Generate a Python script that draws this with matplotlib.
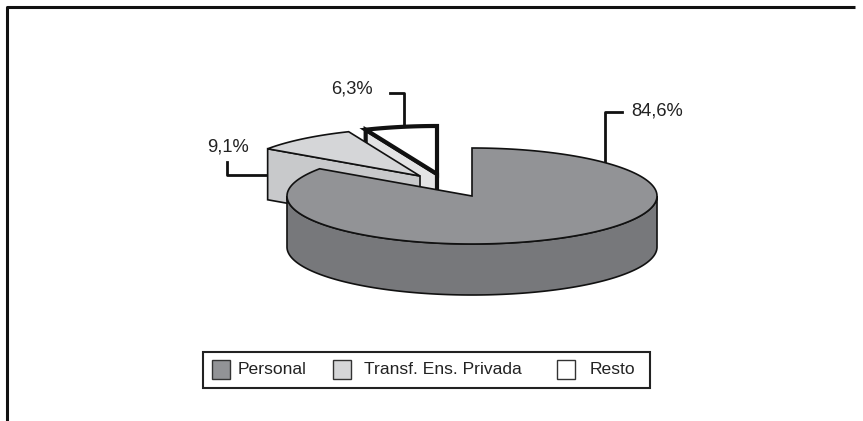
import numpy as np
import matplotlib
matplotlib.use('Agg')
import matplotlib.pyplot as plt
from matplotlib.patches import Polygon, Rectangle

labels = ['Personal', 'Transf. Ens. Privada', 'Resto']
values = [84.6, 9.1, 6.3]
value_labels = ['84,6%', '9,1%', '6,3%']

plt.rcParams['font.family'] = ['Liberation Sans', 'DejaVu Sans']

# pixel space, same size as the scan
fig = plt.figure(figsize=(8.63, 4.21), dpi=100)
ax = fig.add_axes([0, 0, 1, 1])
ax.set_xlim(0, 863)
ax.set_ylim(421, 0)
ax.axis('off')

# outer frame, only left and top survive in the scan
ax.plot([7, 7, 855], [421, 7, 7], color='#111111', lw=2.2, solid_capstyle='butt')

rx, ry, depth = 185, 48, 51
top_colors = ['#929396', '#d5d6d8', '#ffffff']
side_colors = ['#77787b', '#c8c9cb', '#e4e4e5']
edge_widths = [1.2, 1.2, 3]
# centre of each slice, the two small ones are pulled out
centres = [(472, 196), (420, 176), (437, 174)]

# slice angles run clockwise from 12 o'clock
angles = 90 - np.cumsum([0] + values) * 3.6


def arc(cx, cy, a0, a1):
    t = np.radians(np.linspace(a0, a1, 200))
    return cx + rx * np.cos(t), cy - ry * np.sin(t)


def draw_slice(i, z):
    cx, cy = centres[i]
    x, y = arc(cx, cy, angles[i], angles[i + 1])
    lw = edge_widths[i]
    if i == 0:
        # rim of the big slice
        xs, ys = arc(cx, cy, 0, -180)
        side = np.r_[np.c_[xs, ys], np.c_[xs[::-1], ys[::-1] + depth]]
        ax.add_patch(Polygon(side, fc=side_colors[i], ec='#111111', lw=lw, zorder=z))
    else:
        # cut face below the left edge of the slice
        face = np.array([[x[0], y[0]], [cx, cy], [cx, cy + depth], [x[0], y[0] + depth]])
        ax.add_patch(Polygon(face, fc=side_colors[i], ec='#111111', lw=lw, zorder=z))
    top = np.r_[[[cx, cy]], np.c_[x, y]]
    ax.add_patch(Polygon(top, fc=top_colors[i], ec='#111111', lw=lw, zorder=z + 0.5,
                         joinstyle='miter'))


# back to front
draw_slice(2, 2)
draw_slice(1, 3)
draw_slice(0, 4)

# leader lines
ax.plot([605, 605, 622], [162, 112, 112], color='#111111', lw=2, zorder=1)
ax.plot([270, 227, 227], [175, 175, 162], color='#111111', lw=2, zorder=1)
ax.plot([404, 404, 390], [126, 93, 93], color='#111111', lw=2, zorder=1)

ax.text(631, 111, value_labels[0], fontsize=13.2, va='center', ha='left', color='#222222')
ax.text(207, 147, value_labels[1], fontsize=13.2, va='center', ha='left', color='#222222')
ax.text(331, 89, value_labels[2], fontsize=13.2, va='center', ha='left', color='#222222')

# legend box
ax.add_patch(Rectangle((203, 352), 447, 36, fc='white', ec='#222222', lw=1.5, zorder=5))
swatch_x = [212, 333, 557]
text_x = [238, 364, 590]
for i in range(3):
    ax.add_patch(Rectangle((swatch_x[i], 360), 18, 19, fc=top_colors[i], ec='#333333',
                           lw=1, zorder=6))
    ax.text(text_x[i], 370, labels[i], fontsize=12.6, va='center', ha='left',
            color='#222222', zorder=6)

fig.savefig('out.png', dpi=100)
